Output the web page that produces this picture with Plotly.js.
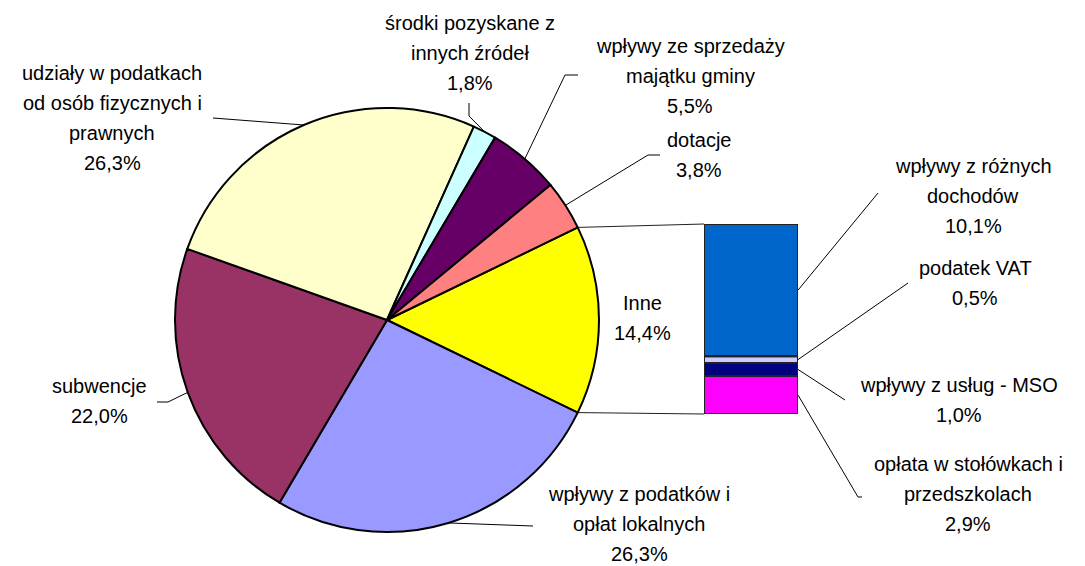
<!DOCTYPE html>
<html>
<head>
<meta charset="utf-8">
<script src="https://cdn.plot.ly/plotly-3.0.1.min.js"></script>
<style>
  html, body { margin: 0; padding: 0; background: #fff; }
  #chart { width: 1085px; height: 566px; }
</style>
</head>
<body>
<div id="chart"></div>
<script>
// pie slices, clockwise starting with "Inne"
const pieNames = [
  "Inne",
  "wpływy z podatków i\nopłat lokalnych",
  "subwencje",
  "udziały w podatkach\nod osób fizycznych i\nprawnych",
  "środki pozyskane z\ninnych źródeł",
  "wpływy ze sprzedaży\nmajątku gminy",
  "dotacje"
];
const pieValues = [14.4, 26.3, 22.0, 26.3, 1.8, 5.5, 3.8];
const pieColors = ["#FFFF00", "#9999FF", "#993366", "#FFFFCC", "#CCFFFF", "#660066", "#FF8080"];

// breakdown of "Inne", bottom to top
const barNames = [
  "opłata w stołówkach i\nprzedszkolach",
  "wpływy z usług - MSO",
  "podatek VAT",
  "wpływy z różnych\ndochodów"
];
const barValues = [2.9, 1.0, 0.5, 10.1];
const barColors = ["#FF00FF", "#000080", "#CCCCFF", "#0066CC"];

const W = 1085, H = 566;
const px = (x) => x / W;
const py = (y) => 1 - y / H;

// pie placement (pixels)
const cx = 387, cy = 320, r = 212;
// bar placement (pixels)
const barL = 704, barR = 798, barT = 224, barB = 414;

// label placement: text centre x, first line y, leader waypoints near the text
const pieLabelPos = [
  { x: 642, y: 303, lead: null },
  { x: 639, y: 494, lead: [[533, 526]] },
  { x: 99, y: 386, lead: [[157, 402], [168, 402]] },
  { x: 112, y: 73, lead: [[213, 118]] },
  { x: 470, y: 23, lead: [[469, 103], [469, 116]] },
  { x: 690, y: 46, lead: [[578, 75], [565, 75]] },
  { x: 699, y: 140, lead: [[660, 155], [648, 155]] }
];
const barLabelPos = [
  { x: 968, y: 464, lead: [[862, 497], [858, 497]] },
  { x: 959, y: 385, lead: [[845, 400]] },
  { x: 975, y: 268, lead: [[908, 283]] },
  { x: 973, y: 166, lead: [[878, 193]] }
];
const lineStep = 30;

const pieTotal = pieValues.reduce((a, b) => a + b, 0);
const barTotal = barValues.reduce((a, b) => a + b, 0);
const rotation = 90 - (pieValues[0] / pieTotal) * 180;

function fmt(v) {
  return v.toFixed(1).replace(".", ",") + "%";
}

function edgePoint(deg) {
  const a = deg * Math.PI / 180;
  return [cx + r * Math.sin(a), cy - r * Math.cos(a)];
}

function pathOf(points) {
  return points.map((p, i) => (i ? "L" : "M") + px(p[0]) + "," + py(p[1])).join(" ");
}

const annotations = [];
const shapes = [];

function addLabel(name, value, pos) {
  const lines = name.split("\n").concat([fmt(value)]);
  lines.forEach((t, i) => {
    annotations.push({
      xref: "paper", yref: "paper",
      x: px(pos.x), y: py(pos.y + i * lineStep),
      xanchor: "center", yanchor: "middle",
      text: t, showarrow: false,
      font: { family: "Liberation Sans, Arial, sans-serif", size: 20, color: "#000" }
    });
  });
}

// pie labels and leaders
let angle = rotation;
pieValues.forEach((v, i) => {
  const span = (v / pieTotal) * 360;
  const mid = angle + span / 2;
  const pos = pieLabelPos[i];
  addLabel(pieNames[i], v, pos);
  if (pos.lead) {
    shapes.push({
      type: "path", xref: "paper", yref: "paper",
      path: pathOf(pos.lead.concat([edgePoint(mid)])),
      line: { color: "#000", width: 1 }
    });
  }
  angle += span;
});

// bar labels, leaders and segment outlines
let acc = 0;
barValues.forEach((v, i) => {
  const midY = barB - ((acc + v / 2) / barTotal) * (barB - barT);
  const pos = barLabelPos[i];
  addLabel(barNames[i], v, pos);
  shapes.push({
    type: "path", xref: "paper", yref: "paper",
    path: pathOf(pos.lead.concat([[barR, midY]])),
    line: { color: "#000", width: 1 }
  });
  shapes.push({
    type: "rect", xref: "x", yref: "y",
    x0: -0.5, x1: 0.5, y0: acc, y1: acc + v,
    line: { color: "#222", width: 2 },
    fillcolor: "rgba(0,0,0,0)"
  });
  acc += v;
});

// connector lines from the "Inne" slice to the bar
const inneSpan = (pieValues[0] / pieTotal) * 360;
const pTop = edgePoint(rotation);
const pBot = edgePoint(rotation + inneSpan);
shapes.push({
  type: "path", xref: "paper", yref: "paper",
  path: pathOf([pTop, [barL, barT]]),
  line: { color: "#222", width: 1 }
});
shapes.push({
  type: "path", xref: "paper", yref: "paper",
  path: pathOf([pBot, [barL, barB]]),
  line: { color: "#222", width: 1 }
});

const pieTrace = {
  type: "pie",
  labels: pieNames,
  values: pieValues,
  sort: false,
  direction: "clockwise",
  rotation: rotation,
  marker: { colors: pieColors, line: { color: "#000", width: 2 } },
  textinfo: "none",
  hoverinfo: "skip",
  showlegend: false,
  domain: { x: [px(cx - r), px(cx + r)], y: [py(cy + r), py(cy - r)] }
};

const barTraces = barValues.map((v, i) => ({
  type: "bar",
  x: [0],
  y: [v],
  width: 1,
  name: barNames[i],
  marker: { color: barColors[i], line: { color: "#222", width: 2 } },
  cliponaxis: false,
  hoverinfo: "skip",
  showlegend: false
}));

const layout = {
  width: W,
  height: H,
  margin: { l: 0, r: 0, t: 0, b: 0 },
  paper_bgcolor: "#fff",
  plot_bgcolor: "rgba(0,0,0,0)",
  barmode: "stack",
  xaxis: {
    domain: [px(barL), px(barR)],
    range: [-0.5, 0.5],
    visible: false,
    fixedrange: true
  },
  yaxis: {
    domain: [py(barB), py(barT)],
    range: [0, barTotal],
    visible: false,
    fixedrange: true
  },
  annotations: annotations,
  shapes: shapes
};

Plotly.newPlot("chart", [pieTrace].concat(barTraces), layout, { staticPlot: true });
</script>
</body>
</html>
